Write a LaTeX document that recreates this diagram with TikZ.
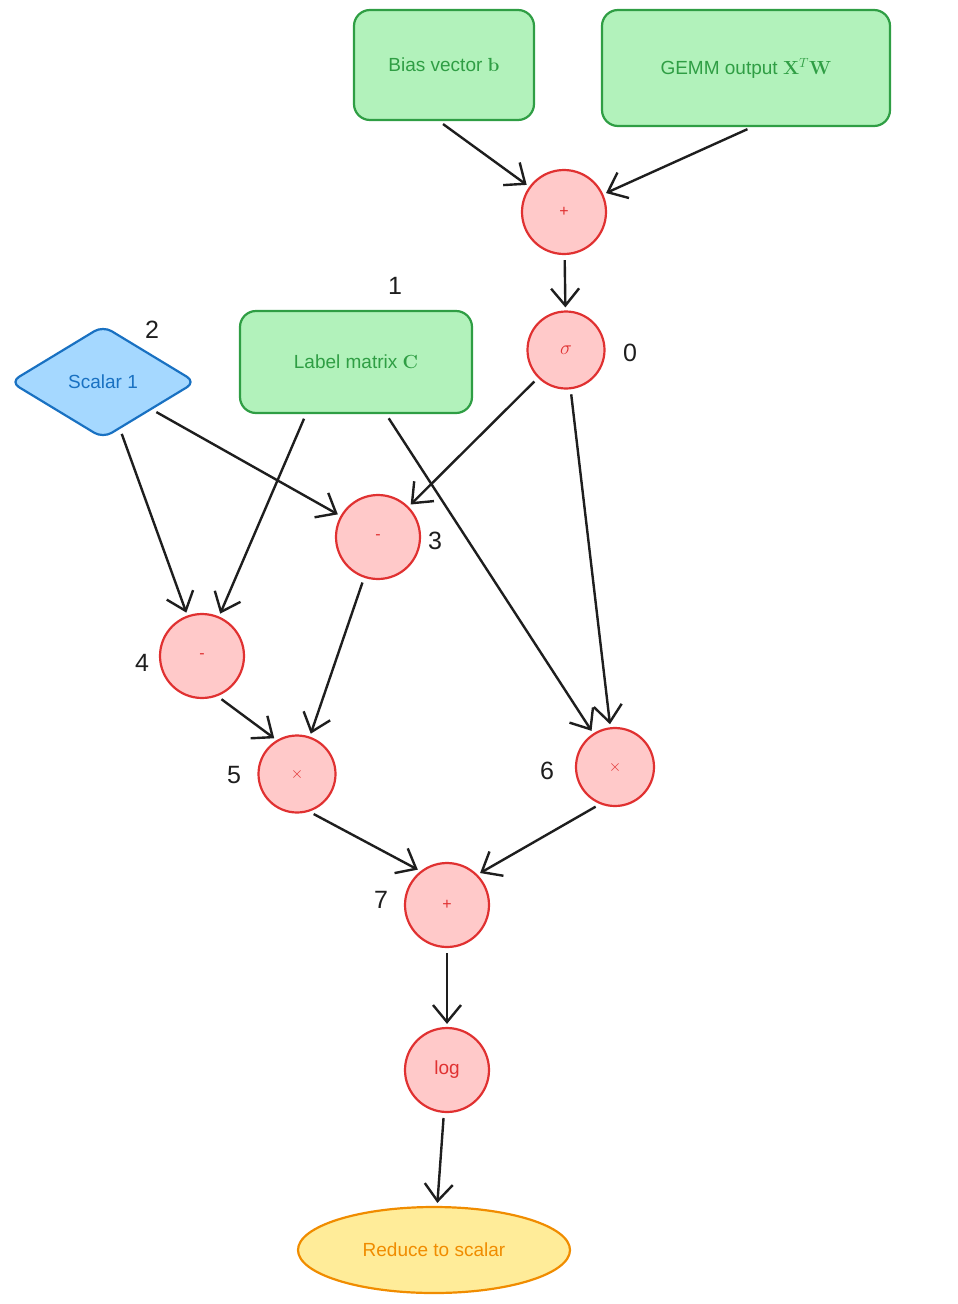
\RequirePackage{fix-cm}
\documentclass[tikz,border=0pt]{standalone}
\usepackage[no-math]{fontspec}
\setmainfont{Liberation Sans}
\usetikzlibrary{arrows.meta,shapes.geometric}
\definecolor{gfill}{HTML}{B2F2BB}
\definecolor{gline}{HTML}{2F9E44}
\definecolor{bfill}{HTML}{A5D8FF}
\definecolor{bline}{HTML}{1971C2}
\definecolor{rfill}{HTML}{FFC9C9}
\definecolor{rline}{HTML}{E03131}
\definecolor{yfill}{HTML}{FFEC99}
\definecolor{yline}{HTML}{F08C00}
\definecolor{ink}{HTML}{1E1E1E}
\tikzset{
  gbox/.style={draw=gline,fill=gfill,line width=2.2pt,rounded corners=16pt,text=gline,font=\fontsize{19}{21}\selectfont,inner sep=0pt},
  opnode/.style={circle,draw=rline,fill=rfill,line width=2.2pt,text=rline,inner sep=0pt,minimum size=84pt,font=\fontsize{16}{18}\selectfont},
  numlbl/.style={text=ink,font=\fontsize{25}{27}\selectfont,inner sep=0pt},
  arr/.style={draw=ink,line width=2.4pt,-{Straight Barb[length=17pt,width=28pt,line width=2.4pt]},shorten >=3pt,shorten <=5pt},
}
\begin{document}
\begin{tikzpicture}[x=1pt,y=-1pt]
\useasboundingbox (0,0) rectangle (958,1304);
% boxes
\node[gbox,minimum width=180pt,minimum height=110pt] (bias) at (444,65) {Bias vector $\mathbf{b}$};
\node[gbox,minimum width=288pt,minimum height=116pt] (gemm) at (746,68) {GEMM output $\mathbf{X}^T\mathbf{W}$};
\node[gbox,minimum width=232pt,minimum height=102pt] (label) at (356,362) {Label matrix $\mathbf{C}$};
\node[diamond,draw=bline,fill=bfill,line width=2.2pt,rounded corners=10pt,text=bline,font=\fontsize{19}{21}\selectfont,minimum width=186pt,minimum height=113pt,inner sep=0pt] (scalar) at (103,382) {Scalar 1};
% operators
\node[opnode] (plus) at (564,212) {+};
\node[opnode,minimum size=77pt,font=\fontsize{20}{22}\selectfont] (sigma) at (566,350) {$\sigma$};
\node[opnode] (n3) at (378,537) {-};
\node[opnode] (n4) at (202,656) {-};
\node[opnode,minimum size=77pt] (n5) at (297,774) {$\times$};
\node[opnode,minimum size=78pt] (n6) at (615,767) {$\times$};
\node[opnode] (n7) at (447,905) {+};
\node[opnode,font=\fontsize{19}{21}\selectfont] (log) at (447,1070) {log};
\node[ellipse,draw=yline,fill=yfill,line width=2.2pt,text=yline,font=\fontsize{19}{21}\selectfont,minimum width=272pt,minimum height=86pt,inner sep=0pt] (reduce) at (434,1250) {Reduce to scalar};
% number labels
\node[numlbl] (l0) at (630,353) {0};
\node[numlbl] (l1) at (395,286) {1};
\node[numlbl] (l2) at (152,330) {2};
\node[numlbl] (l3) at (435,541) {3};
\node[numlbl] (l4) at (142,663) {4};
\node[numlbl] (l5) at (234,775) {5};
\node[numlbl] (l6) at (547,771) {6};
\node[numlbl] (l7) at (381,900) {7};
% edges
\draw[arr] ([xshift=-5pt]bias.south) -- (plus);
\draw[arr] ([xshift=6pt]gemm.south) -- (plus);
\draw[arr] (plus) -- (sigma);
\draw[arr] (scalar) -- (n3);
\draw[arr] (sigma) -- (n3);
\draw[arr] (scalar) -- (n4);
\draw[arr] ([xshift=-50pt]label.south) -- (n4);
\draw[arr] ([xshift=30pt]label.south) -- (n6);
\draw[arr] (sigma) -- (n6);
\draw[arr] (n3) -- (n5);
\draw[arr] (n4.-69) -- (n5.121);
\draw[arr] (n5.-72) -- (n7.128);
\draw[arr] (n6.-112) -- (n7.45);
\draw[arr] (n7) -- (log);
\draw[arr] (log) -- (reduce);
\end{tikzpicture}
\end{document}
